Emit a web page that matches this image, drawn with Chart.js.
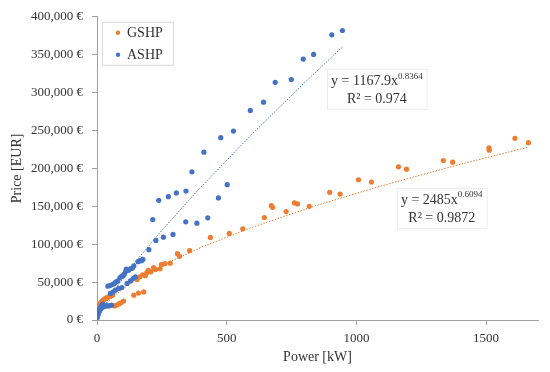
<!DOCTYPE html>
<html>
<head>
<meta charset="utf-8">
<script src="https://cdn.jsdelivr.net/npm/chart.js@4.4.1/dist/chart.umd.min.js"></script>
<style>
  html, body { margin: 0; padding: 0; background: #fff; }
  #wrap { width: 550px; height: 372px; }
</style>
</head>
<body>
<div id="wrap"><canvas id="chart"></canvas></div>
<script>
// valeurs (kW, EUR)
const gshpPower = [1, 3, 5, 8, 11, 15, 19, 23, 28, 33, 39, 46, 53, 60,
  68, 76, 84, 92, 102, 142, 160, 180,
  155, 165, 176, 186, 192, 198, 208, 218, 226, 243, 248, 262, 282, 310, 318, 357,
  437, 510, 562, 645, 672, 677, 729, 761, 773, 818, 897, 937, 1008, 1058,
  1162, 1193, 1335, 1371, 1511, 1512, 1611, 1663];
const gshpPrice = [10500, 14000, 16500, 19000, 21000, 22800, 24500, 25800, 27200, 28500, 29800, 30800, 31800, 32800,
  18600, 19800, 21200, 22700, 25000, 32800, 35500, 37000,
  53500, 57000, 59500, 58500, 62500, 65600, 63500, 69000, 66500, 67500, 73000, 74500, 75000, 87500, 84000, 91500,
  108900, 114200, 120300, 135200, 150800, 148700, 143000, 154500, 153100, 150000, 168400, 166200, 185000, 182000,
  202100, 199000, 210400, 208200, 227000, 224000, 239700, 234000];

const ashpPower = [1, 3, 5, 6, 8, 10, 12, 13, 16, 18, 20, 22, 24, 28, 33, 38, 44, 50, 56,
  52, 62, 71, 84, 96, 116, 129, 139, 148,
  42, 50, 59, 66, 72, 80, 89, 95, 100, 105, 110, 113, 122, 130, 136, 142, 158, 166, 172, 177,
  200, 215, 227, 238, 256, 275, 293, 306, 342, 343, 366, 385, 412, 427, 468, 477, 502, 526,
  591, 642, 687, 749, 795, 835, 905, 946];
const ashpPrice = [3000, 5500, 8000, 13000, 10500, 12500, 16000, 14000, 15500, 19000, 16500, 21000, 17500, 18000, 18500, 19000, 18500, 19000, 19500,
  35000, 37100, 39400, 41600, 42900, 48200, 51600, 54700, 56800,
  44600, 45500, 46800, 48000, 49900, 51600, 56000, 57500, 58100, 60400, 63900, 67300, 65600, 67800, 68200, 71300, 77000, 78300, 78300, 80000,
  92800, 132500, 105000, 157900, 109300, 162700, 112900, 167600, 129500, 170200, 195500, 127700, 221400, 134800, 161000, 240500, 178500, 249300,
  276500, 287400, 313600, 317200, 344200, 350400, 376200, 381900];

// courbes de tendance (y = a * x^b) affichées sur le graphique
const gshpFit = [2485, 0.6094, 0.9872];
const ashpFit = [1167.9, 0.8364, 0.974];
const gshpTrendX = [1, 2, 4, 7, 12, 20, 35, 60, 100, 160, 250, 400, 600, 850, 1100, 1400, 1663];
const ashpTrendX = [1, 2, 4, 7, 12, 20, 35, 60, 100, 160, 250, 400, 600, 800, 946];

const xTicks = [0, 500, 1000, 1500];
const yTicks = [0, 50000, 100000, 150000, 200000, 250000, 300000, 350000, 400000];

const ORANGE = '#ED7D31';
const BLUE = '#4472C4';
const TXT = '#333333';
const FONT = "'Liberation Serif', serif";

function toPoints(xs, ys) {
  return xs.map((x, i) => ({ x: x, y: ys[i] }));
}
function trend(xs, fit) {
  return xs.map(x => ({ x: x, y: fit[0] * Math.pow(x, fit[1]) }));
}

// légende et équations dessinées dans la zone du graphique
const overlay = {
  id: 'overlay',
  afterDraw(chart) {
    const ctx = chart.ctx;
    const a = chart.chartArea;
    const sx = chart.scales.x, sy = chart.scales.y;
    ctx.save();

    // légende
    const lx = a.left + 5, ly = a.top + 5;
    ctx.fillStyle = '#fff';
    ctx.strokeStyle = '#d9d9d9';
    ctx.lineWidth = 1;
    ctx.fillRect(lx, ly, 71, 43);
    ctx.strokeRect(lx + 0.5, ly + 0.5, 71, 43);
    const items = [['GSHP', ORANGE], ['ASHP', BLUE]];
    ctx.font = '14px ' + FONT;
    ctx.textBaseline = 'middle';
    ctx.textAlign = 'left';
    items.forEach((it, i) => {
      const cy = ly + 11 + i * 22;
      ctx.fillStyle = it[1];
      ctx.beginPath();
      ctx.arc(lx + 16, cy, 2.2, 0, Math.PI * 2);
      ctx.fill();
      ctx.fillStyle = TXT;
      ctx.fillText(it[0], lx + 25, cy + 1);
    });

    // équations
    function eq(cxVal, cyVal, fit, coefTxt) {
      const cx = sx.getPixelForValue(cxVal);
      const cy = sy.getPixelForValue(cyVal);
      const main = 'y = ' + coefTxt + 'x';
      const sup = String(fit[1]);
      const r2 = 'R\u00B2 = ' + fit[2];
      ctx.font = '14px ' + FONT;
      const wMain = ctx.measureText(main).width;
      const wR2 = ctx.measureText(r2).width;
      ctx.font = '9px ' + FONT;
      const wSup = ctx.measureText(sup).width;
      const w1 = wMain + wSup;
      const bw = Math.max(w1, wR2) + 8, bh = 40;
      ctx.fillStyle = '#fff';
      ctx.fillRect(cx - bw / 2, cy - bh / 2, bw, bh);
      ctx.strokeStyle = '#ececec';
      ctx.strokeRect(Math.round(cx - bw / 2) + 0.5, Math.round(cy - bh / 2) + 0.5, bw, bh);
      ctx.fillStyle = TXT;
      ctx.textAlign = 'left';
      ctx.textBaseline = 'middle';
      ctx.font = '14px ' + FONT;
      ctx.fillText(main, cx - w1 / 2, cy - 8);
      ctx.font = '9px ' + FONT;
      ctx.fillText(sup, cx - w1 / 2 + wMain, cy - 13);
      ctx.font = '14px ' + FONT;
      ctx.textAlign = 'center';
      ctx.fillText(r2, cx, cy + 10);
    }
    eq(1079, 304500, ashpFit, '1167.9');
    eq(1329, 147600, gshpFit, '2485');
    ctx.restore();
  }
};

new Chart(document.getElementById('chart'), {
  type: 'scatter',
  data: {
    datasets: [
      {
        label: 'GSHP', data: toPoints(gshpPower, gshpPrice),
        backgroundColor: ORANGE, pointRadius: 2.6, pointBorderWidth: 0, order: 2
      },
      {
        label: 'ASHP', data: toPoints(ashpPower, ashpPrice),
        backgroundColor: BLUE, pointRadius: 2.6, pointBorderWidth: 0, order: 1
      },
      {
        label: 'GSHP fit', data: trend(gshpTrendX, gshpFit), showLine: true,
        borderColor: ORANGE, borderWidth: 1, borderDash: [1.5, 1.5], pointRadius: 0, order: 3
      },
      {
        label: 'ASHP fit', data: trend(ashpTrendX, ashpFit), showLine: true,
        borderColor: BLUE, borderWidth: 1, borderDash: [1.5, 1.5], pointRadius: 0, order: 3
      }
    ]
  },
  options: {
    responsive: true,
    maintainAspectRatio: false,
    animation: false,
    layout: { padding: { top: 15, right: 12, bottom: 0, left: 0 } },
    plugins: { legend: { display: false }, tooltip: { enabled: false } },
    scales: {
      x: {
        type: 'linear', min: 0, max: 1700,
        border: { color: '#a0a0a0' },
        grid: { drawOnChartArea: false, drawTicks: true, tickLength: 5, color: '#a0a0a0' },
        ticks: { stepSize: 500, padding: 6, color: TXT, font: { family: FONT, size: 13 }, callback: v => String(v) },
        afterBuildTicks: s => { s.ticks = xTicks.map(v => ({ value: v })); },
        afterFit: s => { s.height = 52; },
        title: { display: true, text: 'Power [kW]', color: TXT, font: { family: FONT, size: 14 }, padding: { top: 0, bottom: 6 } }
      },
      y: {
        type: 'linear', min: 0, max: 400000,
        border: { color: '#a0a0a0' },
        grid: { drawOnChartArea: false, drawTicks: true, tickLength: 5, color: '#a0a0a0' },
        ticks: { stepSize: 50000, padding: 9, color: TXT, font: { family: FONT, size: 13 },
          callback: v => v.toLocaleString('en-US') + ' \u20AC' },
        afterBuildTicks: s => { s.ticks = yTicks.map(v => ({ value: v })); },
        afterFit: s => { s.width = 97; },
        title: { display: true, text: 'Price [EUR]', color: TXT, font: { family: FONT, size: 14 }, padding: { top: 9, bottom: 0 } }
      }
    }
  },
  plugins: [overlay]
});
</script>
</body>
</html>
